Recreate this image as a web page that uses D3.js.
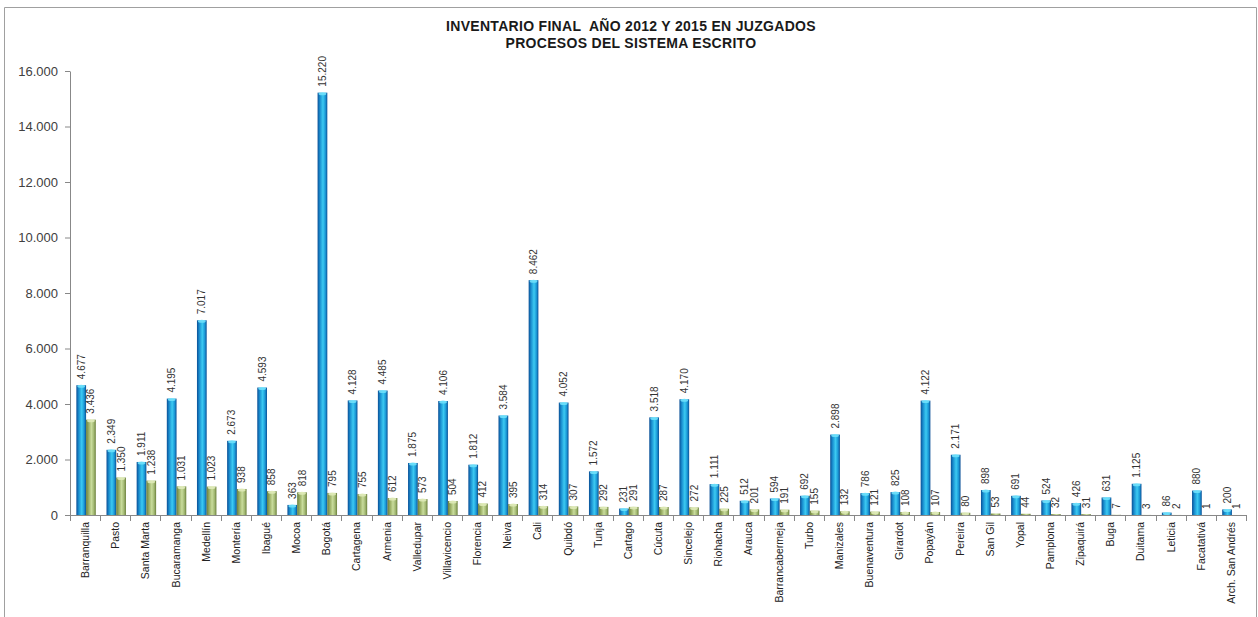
<!DOCTYPE html>
<html><head><meta charset="utf-8">
<script src="https://cdn.jsdelivr.net/npm/d3@7"></script>
<style>body{margin:0;background:#fff;}svg{display:block;}</style>
</head><body>
<svg id="c" width="1258" height="617"></svg>
<script>
const categories = ["Barranquilla","Pasto","Santa Marta","Bucaramanga","Medellín","Montería","Ibagué","Mocoa","Bogotá","Cartagena","Armenia","Valledupar","Villavicencio","Florencia","Neiva","Cali","Quibdó","Tunja","Cartago","Cúcuta","Sincelejo","Riohacha","Arauca","Barrancabermeja","Turbo","Manizales","Buenaventura","Girardot","Popayán","Pereira","San Gil","Yopal","Pamplona","Zipaquirá","Buga","Duitama","Leticia","Facatativá","Arch. San Andrés"];
const values2012 = [4677,2349,1911,4195,7017,2673,4593,363,15220,4128,4485,1875,4106,1812,3584,8462,4052,1572,231,3518,4170,1111,512,594,692,2898,786,825,4122,2171,898,691,524,426,631,1125,86,880,200];
const values2015 = [3436,1350,1238,1031,1023,938,858,818,795,755,612,573,504,412,395,314,307,292,291,287,272,225,201,191,155,132,121,108,107,80,53,44,32,31,7,3,2,1,1];
const yTicks = [0,2000,4000,6000,8000,10000,12000,14000,16000];
const titleLines = ["INVENTARIO FINAL  AÑO 2012 Y 2015 EN JUZGADOS","PROCESOS DEL SISTEMA ESCRITO"];

const svg = d3.select("#c");
const fmt = v => d3.format(",")(v).replace(/,/g,".");

// frame
svg.append("path").attr("d","M4.5,617 V7.5 H1256.5 V617").attr("fill","none").attr("stroke","#a0a0a0").attr("stroke-width",1);

const x0 = d3.scaleBand().domain(categories).range([70,1246]).paddingInner(0).paddingOuter(0);
const y = d3.scaleLinear().domain([0,16000]).range([515,71]);
const x1 = d3.scaleBand().domain(["a","b"]).range([1,x0.bandwidth()+1]).paddingInner(0).paddingOuter(0.55);

const defs = svg.append("defs");
function grad(id, stops){
  const g = defs.append("linearGradient").attr("id",id).attr("x1","0").attr("x2","1").attr("y1","0").attr("y2","0");
  stops.forEach(s=>g.append("stop").attr("offset",s[0]).attr("stop-color",s[1]));
}
grad("gBlue",[[0,"#0a4f96"],[0.25,"#1a8fd0"],[0.55,"#3ccaf2"],[0.8,"#1a98d6"],[1,"#0a4f96"]]);
grad("gGreen",[[0,"#6a7f3a"],[0.3,"#9fb36a"],[0.55,"#c9dc9c"],[0.8,"#a2b872"],[1,"#6a7f3a"]]);

// title
svg.append("g").selectAll("text").data(titleLines).join("text")
  .attr("x",631).attr("y",(d,i)=>31+i*16.5)
  .attr("text-anchor","middle").attr("font-family","Liberation Sans, Arial, sans-serif")
  .style("white-space","pre").attr("letter-spacing","0.3px")
  .attr("font-weight","bold").attr("font-size","14px").attr("fill","#1a1a1a").text(d=>d);

// y axis
const yAxis = svg.append("g").attr("transform","translate(70,0)")
  .call(d3.axisLeft(y).tickValues(yTicks).tickFormat(fmt).tickSize(5).tickSizeOuter(0));
yAxis.select(".domain").attr("stroke","#888");
yAxis.selectAll(".tick line").attr("stroke","#888");
yAxis.selectAll("text").attr("font-family","Liberation Sans, Arial, sans-serif").attr("font-size","13px").attr("fill","#404040").attr("x",-12);

// x axis
svg.append("line").attr("x1",70).attr("x2",1246).attr("y1",515.5).attr("y2",515.5).attr("stroke","#888");
svg.append("g").selectAll("line").data(d3.range(categories.length+1)).join("line")
  .attr("x1",i=>Math.round(70+i*x0.step())+0.5).attr("x2",i=>Math.round(70+i*x0.step())+0.5)
  .attr("y1",515).attr("y2",521).attr("stroke","#888");

svg.append("g").selectAll("text").data(categories).join("text")
  .attr("transform",d=>`translate(${x0(d)+x0.bandwidth()/2+4},522) rotate(-90)`)
  .attr("text-anchor","end").attr("font-family","Liberation Sans, Arial, sans-serif")
  .attr("font-size","10.5px").attr("fill","#222").text(d=>d);

// bars
const series = [{key:"a",vals:values2012,fill:"url(#gBlue)",cap:"#6fe0fb"},{key:"b",vals:values2015,fill:"url(#gGreen)",cap:"#dfeab8"}];
series.forEach(s=>{
  const g = svg.append("g");
  const data = categories.map((c,i)=>({c,v:s.vals[i]}));
  g.selectAll("rect").data(data).join("rect")
    .attr("x",d=>x0(d.c)+x1(s.key)).attr("width",x1.bandwidth())
    .attr("y",d=>y(d.v)).attr("height",d=>y(0)-y(d.v)).attr("fill",s.fill);
  g.selectAll("ellipse").data(data.filter(d=>y(0)-y(d.v)>2)).join("ellipse")
    .attr("cx",d=>x0(d.c)+x1(s.key)+x1.bandwidth()/2).attr("cy",d=>y(d.v)+1)
    .attr("rx",x1.bandwidth()/2-1).attr("ry",1.5).attr("fill",s.cap).attr("opacity",0.9);
  g.selectAll("text").data(data).join("text")
    .attr("transform",d=>`translate(${x0(d.c)+x1(s.key)+x1.bandwidth()/2+3.5},${y(d.v)-6}) rotate(-90)`)
    .attr("text-anchor","start").attr("font-family","Liberation Sans, Arial, sans-serif")
    .attr("font-size","10px").attr("fill","#333").text(d=>fmt(d.v));
});
</script>
</body></html>
